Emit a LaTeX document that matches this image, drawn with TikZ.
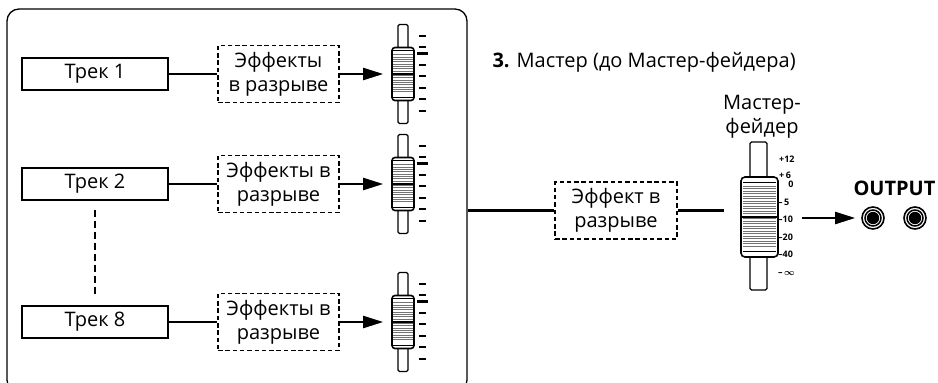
\documentclass[tikz,border=0pt]{standalone}
\usepackage{fontspec}
\setmainfont{Open Sans}
\usetikzlibrary{positioning, arrows.meta, calc}

\begin{document}
\begin{tikzpicture}[
    x=1pt, y=-1pt,
    every node/.style={font=\fontsize{20}{24}\selectfont},
    trackbox/.style={draw, line width=1.3pt, minimum width=146pt, minimum height=32pt, inner sep=0pt},
    fxbox/.style={draw, line width=1.3pt, dash pattern=on 4.5pt off 2.8pt, minimum width=121pt, minimum height=57pt, inner sep=0pt, align=center},
    slot/.style={draw, fill=white, line width=1.3pt, rounded corners=1.5pt, inner sep=0pt},
    knob/.style={draw, fill=white, line width=1.6pt, rounded corners=3pt, inner sep=0pt},
    grille/.style={black!55, line width=0.6pt},
    sig/.style={line width=2.2pt},
    sigarrow/.style={sig, -{Triangle[length=20pt, width=12pt]}},
    tick/.style={line width=1.6pt},
    scalelbl/.style={font=\fontsize{9}{10}\selectfont\bfseries\boldmath, inner sep=0pt, anchor=west},
    jack/.style={circle, draw, line width=1.6pt, minimum size=22pt, inner sep=0pt},
  ]
  \path[use as bounding box, clip] (0,0) rectangle (938,383);

  % Mixer frame
  \node[draw, line width=1.3pt, rounded corners=12pt, minimum width=460pt, minimum height=383pt, inner sep=0pt] (mixer) at (237,200.5) {};

  % Channels
  \foreach \n/\y/\fx in {1/74/{Эффекты\\в разрыве}, 2/184/{Эффекты в\\разрыве}, 8/322/{Эффекты в\\разрыве}} {
    \node[trackbox] (trk\n) at (95,\y) {Трек \n};
    \node[fxbox] (fx\n) at (278.5,\y) {\fx};
    \node[slot, minimum width=10pt, minimum height=99pt] (fdr\n) at (403,\y) {};
    \node[knob, minimum width=22pt, minimum height=53pt] (knob\n) at (403,\y) {};
    \draw[line width=0.6pt] ($(knob\n.north west)+(2,4)$) -- ($(knob\n.north east)+(-2,4)$);
    \draw[line width=0.6pt] ($(knob\n.south west)+(2,-4)$) -- ($(knob\n.south east)+(-2,-4)$);
    \foreach \k in {0,...,16}
      \draw[grille] ($(knob\n.north west)+(2,8+2.3*\k)$) -- ($(knob\n.north east)+(-2,8+2.3*\k)$);
    \draw[line width=2.2pt] ($(knob\n.west)+(1,0)$) -- ($(knob\n.east)+(-1,0)$);
    \foreach \dy in {-38,-27,-9,2,14,25,37}
      \draw[tick] (419,\y+\dy) -- ++(7,0);
    \draw[line width=3pt] (417,\y-21) -- ++(11,0);
    \draw[sig] (trk\n) -- (fx\n);
    \draw[sigarrow, shorten >=8pt] (fx\n.east) -- (fx\n.east -| knob\n.west);
  }
  \draw[line width=1.1pt, dash pattern=on 7pt off 4pt, shorten <=9pt, shorten >=10pt] (trk2) -- (trk8);

  % Master section
  \node[anchor=base west] (title) at (489,67) {\textbf{3.} Мастер (до Мастер-фейдера)};
  \node[fxbox, minimum width=122pt] (mfx) at (616,210.5) {Эффект в\\разрыве};
  \draw[sig] (mixer.east |- mfx.west) -- (mfx);
  \coordinate (mend) at (724,210.5);
  \draw[sig] (mfx) -- (mend);

  \node[align=center] (mlbl) at (762,117) {Мастер-\\фейдер};
  \node[slot, minimum width=17pt, minimum height=148pt] (mfdr) at (758.5,216) {};
  \node[knob, minimum width=37pt, minimum height=80pt, rounded corners=4pt] (mknob) at (759.5,217) {};
  \draw[line width=0.7pt] ($(mknob.north west)+(3,6)$) -- ($(mknob.north east)+(-3,6)$);
  \draw[line width=0.7pt] ($(mknob.south west)+(3,-6)$) -- ($(mknob.south east)+(-3,-6)$);
  \foreach \k in {0,...,24}
    \draw[grille] ($(mknob.north west)+(3,10+2.5*\k)$) -- ($(mknob.north east)+(-3,10+2.5*\k)$);
  \draw[line width=2.6pt] ($(mknob.west)+(1.5,0)$) -- ($(mknob.east)+(-1.5,0)$);

  \node[scalelbl] (s12) at (779,159) {+12};
  \node[scalelbl] (s6) at (779,175) {+\,6};
  \node[scalelbl, anchor=center] (s0) at (791,184) {0};
  \node[scalelbl] (s5) at (778,202) {--\,5};
  \node[scalelbl] (s10) at (778,219) {--10};
  \node[scalelbl] (s20) at (778,237) {--20};
  \node[scalelbl] (s40) at (778,254) {--40};
  \node[scalelbl] (sinf) at (778,273) {--\,$\infty$};

  % Output
  \coordinate (mout) at (802,218);
  \node[jack] (jackL) at (873,218) {};
  \node[jack] (jackR) at (915,218) {};
  \foreach \j in {jackL, jackR} {
    \draw[line width=1.5pt] (\j) circle (8);
    \fill (\j) circle (6.2);
  }
  \draw[sigarrow, shorten >=6pt] (mout) -- (jackL);
  \node[font=\fontsize{20}{22}\selectfont\bfseries] (outlbl) at (894.5,188.5) {OUTPUT};
\end{tikzpicture}
\end{document}
